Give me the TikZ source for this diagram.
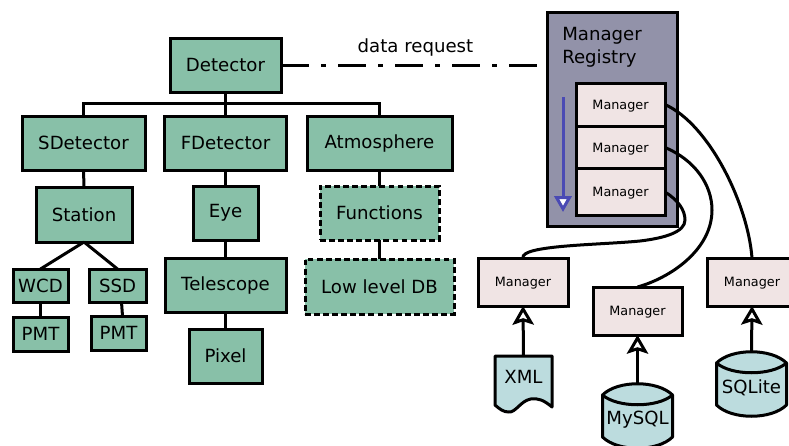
\documentclass[tikz,border=0pt]{standalone}
\usepackage{fontspec}
\setmainfont{DejaVu Sans}
\usetikzlibrary{arrows.meta}
\definecolor{boxgreen}{HTML}{88C0A8}
\definecolor{boxpink}{HTML}{F0E4E4}
\definecolor{boxcyan}{HTML}{BCDCDE}
\definecolor{boxgrey}{HTML}{9292A9}
\definecolor{listblue}{HTML}{4A4AB4}
\tikzset{
	boxsize/.style 2 args={minimum width=#1*0.75pt, minimum height=#2*0.75pt},
	detbox/.style 2 args={draw, line width=2.25pt, fill=boxgreen, inner sep=0pt, outer sep=0pt, font=\fontsize{13.6}{16}\selectfont, boxsize={#1}{#2}},
	dotbox/.style 2 args={detbox={#1}{#2}, dash pattern=on 4.4pt off 2.4pt},
	mgrbox/.style 2 args={draw, line width=2.25pt, fill=boxpink, inner sep=0pt, outer sep=0pt, text depth=0pt, font=\fontsize{9.6}{12}\selectfont, boxsize={#1}{#2}},
	storetext/.style={inner sep=0pt, outer sep=0pt, font=\fontsize{13.6}{16}\selectfont},
	storeline/.style={draw, line width=2.25pt, fill=boxcyan, line join=round},
	wire/.style={line width=2.25pt},
	reads/.style={line width=2.25pt, -{Stealth[length=14pt, width=16pt, inset=2.5pt, fill=white, line width=2.25pt]}},
}
% database drum, the node sits on the text and its north is the top of the drum
\def\drum(#1)#2#3{
	\begin{scope}[shift={(#1)}]
		\draw[storeline] (-35,-25) .. controls (-20,-40) and (20,-40) .. (35,-25) -- (35,17) .. controls (20,32) and (-20,32) .. (-35,17) -- cycle;
		\draw[storeline, fill=none] (-35,-25) .. controls (-20,-12) and (20,-12) .. (35,-25);
		\node[storetext, boxsize={70}{72}] (#2) at (0,0) {#3};
	\end{scope}
}
\def\wavedoc(#1)#2#3{
	\begin{scope}[shift={(#1)}]
		\draw[storeline] (-28.5,-21) -- (28.5,-21) -- (28.5,30) .. controls (20,23) and (15,21) .. (7,22) .. controls (-3,24) and (-8,36) .. (-15,35) .. controls (-20,35) and (-24,32) .. (-28.5,28) -- cycle;
		\node[storetext, boxsize={57}{42}] (#2) at (0,0) {#3};
	\end{scope}
}
\begin{document}
\begin{tikzpicture}[x=0.75pt, y=-0.75pt]
	\useasboundingbox (0,0) rectangle (789,446);

	%%%%% detector tree %%%%%
	\node[detbox={111}{54}] (detector) at (225.5,65) {Detector};
	\node[detbox={123}{54}] (sdetector) at (83.5,143) {SDetector};
	\node[detbox={122}{54}] (fdetector) at (225.5,143) {FDetector};
	\node[detbox={145}{54}] (atmosphere) at (379.5,143) {Atmosphere};
	\node[detbox={96}{55}] (station) at (84,214.5) {Station};
	\node[detbox={65}{54}] (eye) at (225.5,213) {Eye};
	\node[detbox={121}{54}] (telescope) at (225.5,285) {Telescope};
	\node[detbox={73}{54}] (pixel) at (225.5,356) {Pixel};
	\node[detbox={55}{33}] (wcd) at (40.5,285.5) {WCD};
	\node[detbox={57}{33}] (ssd) at (117.5,285.5) {SSD};
	\node[detbox={55}{34}] (pmta) at (40.5,334) {PMT};
	\node[detbox={55}{34}] (pmtb) at (118.5,333) {PMT};
	\node[dotbox={119}{54}] (functions) at (379.5,213) {Functions};
	\node[dotbox={149}{55}] (lowlevel) at (379.5,286.5) {Low level DB};

	\coordinate (bar) at (225.5,103);
	\draw[wire] (sdetector.north) |- (bar) -| (atmosphere.north);
	\draw[wire] (detector.south) -- (fdetector.north);
	\draw[wire] (sdetector.south) -- (station.north);
	\draw[wire] (fdetector.south) -- (eye.north);
	\draw[wire] (eye.south) -- (telescope.north);
	\draw[wire] (telescope.south) -- (pixel.north);
	\draw[wire] (atmosphere.south) -- (functions.north);
	\draw[wire] (functions.south) -- (lowlevel.north);
	\draw[wire] (station.south) -- (wcd.north);
	\draw[wire] (station.south) -- (ssd.north);
	\draw[wire] (wcd.south) -- (pmta.north);
	\draw[wire] ([xshift=3pt]ssd.south) -- ([xshift=3pt]pmtb.north);

	%%%%% registry %%%%%
	\node[draw, line width=2.25pt, fill=boxgrey, inner sep=0pt, outer sep=0pt, boxsize={130}{214}] (registry) at (612,119) {};
	\node[font=\fontsize{13.6}{17.25}\selectfont, align=left, inner sep=0pt, anchor=north west] (regtitle) at (562,27) {Manager\\Registry};
	\node[mgrbox={89}{43}] (mgra) at (620.5,104.5) {Manager};
	\node[mgrbox={89}{43}] (mgrb) at (620.5,147.5) {Manager};
	\node[mgrbox={89}{47}] (mgrc) at (620.5,192) {Manager};

	\coordinate (listtop) at (563,97);
	\coordinate (listend) at (563,212);
	\draw[line width=2.25pt, color=listblue, -{Triangle[length=12pt, width=13pt, fill=white, line width=2.25pt]}] (listtop) -- (listend);

	\coordinate (reqend) at (538,65);
	\draw[wire, dash pattern=on 21pt off 9pt on 3.75pt off 9pt] (detector.east) -- (reqend);
	\node[font=\fontsize{13.6}{16}\selectfont, inner sep=0pt] (reqlabel) at (415.5,47) {data request};

	%%%%% loaded managers %%%%%
	\node[mgrbox={90}{48}] (mgrxml) at (523,282) {Manager};
	\node[mgrbox={89}{48}] (mgrsql) at (637.5,311) {Manager};
	\node[mgrbox={90}{48}] (mgrlite) at (752,282) {Manager};

	\wavedoc(523.5,377){xml}{XML}
	\drum(637.5,420){mysql}{MySQL}
	\drum(751.5,388){sqlite}{SQLite}

	\draw[reads] (xml.north) -- (mgrxml.south);
	\draw[reads] (mysql.north) -- (mgrsql.south);
	\draw[reads] (sqlite.north) -- (mgrlite.south);

	\draw[wire] (mgra.east) .. controls (710,125) and (748,205) .. (mgrlite.north);
	\draw[wire] (mgrb.east) .. controls (695,160) and (712,185) .. (712,210) .. controls (712,250) and (670,278) .. (mgrsql.north);
	\draw[wire] (mgrc.east) .. controls (678,200) and (685,210) .. (685,220) .. controls (685,232) and (665,238) .. (640,241) .. controls (600,245) and (520,245) .. (mgrxml.north);
\end{tikzpicture}
\end{document}
